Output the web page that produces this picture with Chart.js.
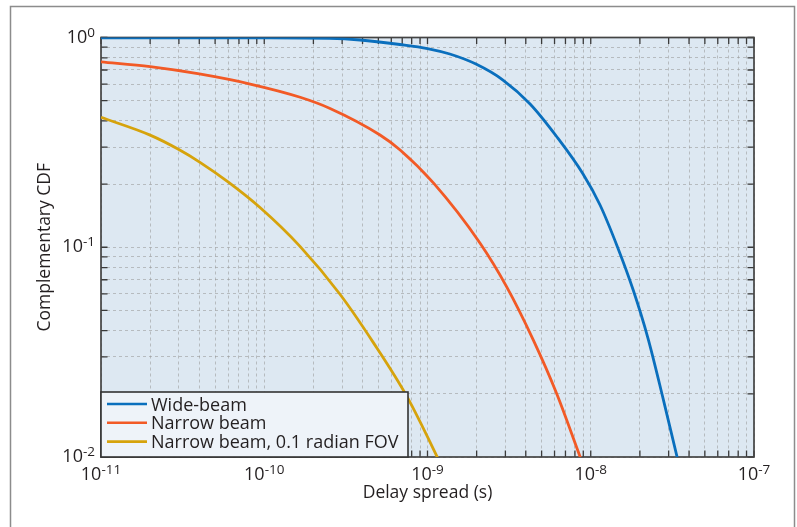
<!DOCTYPE html>
<html>
<head>
<meta charset="utf-8">
<script src="https://cdn.jsdelivr.net/npm/chart.js@4.4.0/dist/chart.umd.min.js"></script>
<style>
  html, body { margin: 0; padding: 0; background: #fff; }
  #wrap { width: 797px; height: 527px; position: relative; }
</style>
</head>
<body>
<div id="wrap"><canvas id="c" width="797" height="527"></canvas></div>
<script>
// Delay spread (s) and complementary CDF for each beam configuration
const wideDelay = [1e-11, 1e-10, 2.5e-10, 3.86e-10, 6.78e-10, 1e-9, 1.37e-9, 1.98e-9, 2.9e-9, 4.25e-9, 6.21e-9, 8.97e-9, 1.14e-8, 1.45e-8, 1.82e-8, 2.24e-8, 2.77e-8, 3.38e-8, 3.47e-8];
const wideCcdf  = [0.996, 0.995, 0.99, 0.973, 0.926, 0.886, 0.834, 0.747, 0.627, 0.482, 0.3355, 0.2235, 0.159, 0.1014, 0.0625, 0.0369, 0.0191, 0.01, 0.0092];

const narrowDelay = [1e-11, 2e-11, 4e-11, 8.2e-11, 1.66e-10, 2.53e-10, 5.12e-10, 6.8e-10, 1.09e-9, 2.1e-9, 3.05e-9, 4.45e-9, 6.18e-9, 8.7e-9];
const narrowCcdf  = [0.765, 0.726, 0.67, 0.60, 0.519, 0.459, 0.343, 0.291, 0.202, 0.1045, 0.0649, 0.0361, 0.0201, 0.0098];

const fovDelay = [1e-11, 2e-11, 2.98e-11, 4.04e-11, 6.03e-11, 9.42e-11, 1.656e-10, 2.91e-10, 4.66e-10, 7.46e-10, 1.14e-9, 1.19e-9];
const fovCcdf  = [0.4164, 0.3424, 0.2931, 0.2541, 0.2045, 0.1547, 0.101, 0.0597, 0.0351, 0.0195, 0.0101, 0.0094];

const seriesLabels = ['Wide-beam', 'Narrow beam', 'Narrow beam, 0.1 radian FOV'];
const seriesColors = ['#0a6fbd', '#f25a26', '#d6a30c'];

// Decade tick labels, written as 10^exponent
const xTickExponents = ['-11', '-10', '-9', '-8', '-7'];
const yTickExponents = ['0', '-1', '-2'];

const xTitle = 'Delay spread (s)';
const yTitle = 'Complementary CDF';

const FONT = '"Open Sans", "Noto Sans", sans-serif';
const TEXT = '#231f20';

function pairs(xs, ys) { return xs.map((x, i) => ({ x: x, y: ys[i] })); }

// 1..9 x 10^e for every decade in the range, plus the closing decade
function logTicks(lo, hi) {
  const t = [];
  for (let e = lo; e < hi; e++) for (let m = 1; m <= 9; m++) t.push({ value: m * Math.pow(10, e), major: m === 1 });
  t.push({ value: Math.pow(10, hi), major: true });
  return t;
}

const plotDecor = {
  id: 'plotDecor',
  beforeDraw(chart) {
    const { ctx, chartArea: a } = chart;
    ctx.save();
    ctx.fillStyle = '#ffffff';
    ctx.fillRect(0, 0, chart.width, chart.height);
    // outer figure frame
    ctx.strokeStyle = '#8c8c8c';
    ctx.lineWidth = 1.5;
    ctx.strokeRect(10.5, 6.5, 784, 540);
    ctx.fillStyle = '#dde8f2';
    ctx.fillRect(a.left, a.top, a.right - a.left, a.bottom - a.top);
    ctx.restore();
  },
  beforeDatasetsDraw(chart) {
    const { ctx, chartArea: a, scales } = chart;
    ctx.save();
    ctx.strokeStyle = '#3a3a3a';
    ctx.lineWidth = 1.3;
    const len = 6.5;
    ctx.beginPath();
    scales.x.ticks.forEach(t => {
      const px = scales.x.getPixelForValue(t.value);
      ctx.moveTo(px, a.bottom); ctx.lineTo(px, a.bottom - len);
      ctx.moveTo(px, a.top); ctx.lineTo(px, a.top + len);
    });
    scales.y.ticks.forEach(t => {
      const py = scales.y.getPixelForValue(t.value);
      ctx.moveTo(a.left, py); ctx.lineTo(a.left + len, py);
      ctx.moveTo(a.right, py); ctx.lineTo(a.right - len, py);
    });
    ctx.stroke();
    ctx.strokeStyle = '#444';
    ctx.lineWidth = 1.7;
    ctx.strokeRect(a.left, a.top, a.right - a.left, a.bottom - a.top);
    ctx.restore();
  },
  afterDraw(chart) {
    const { ctx, chartArea: a, scales } = chart;
    ctx.save();
    ctx.fillStyle = TEXT;
    ctx.textBaseline = 'alphabetic';

    const baseFont = '18px ' + FONT;
    const supFont = '13.5px ' + FONT;
    function power(exp, x, baseline, align) {
      ctx.font = baseFont;
      const wb = ctx.measureText('10').width;
      ctx.font = supFont;
      const ws = ctx.measureText(exp).width;
      const total = wb + ws;
      const x0 = align === 'center' ? x - total / 2 : x - total;
      ctx.textAlign = 'left';
      ctx.font = baseFont;
      ctx.fillText('10', x0, baseline);
      ctx.font = supFont;
      ctx.fillText(exp, x0 + wb, baseline - 6);
    }
    xTickExponents.forEach(e => {
      const px = scales.x.getPixelForValue(Math.pow(10, Number(e)));
      power(e, px, 480, 'center');
    });
    yTickExponents.forEach(e => {
      const py = scales.y.getPixelForValue(Math.pow(10, Number(e)));
      power(e, a.left - 6, py + 5, 'right');
    });

    // axis titles
    ctx.font = '17.5px ' + FONT;
    ctx.textAlign = 'center';
    ctx.fillText(xTitle, (a.left + a.right) / 2, 498);
    ctx.save();
    ctx.translate(50, (a.top + a.bottom) / 2);
    ctx.rotate(-Math.PI / 2);
    ctx.fillText(yTitle, 0, 0);
    ctx.restore();

    // legend box in the lower-left corner of the axes
    const lx0 = a.left, ly0 = 392, lx1 = 408, ly1 = a.bottom;
    ctx.fillStyle = '#eef3f9';
    ctx.fillRect(lx0, ly0, lx1 - lx0, ly1 - ly0);
    ctx.strokeStyle = '#333';
    ctx.lineWidth = 1.6;
    ctx.strokeRect(lx0, ly0, lx1 - lx0, ly1 - ly0);
    ctx.font = '18px ' + FONT;
    ctx.textAlign = 'left';
    chart.data.datasets.forEach((ds, i) => {
      const ry = 404 + i * 18.8;
      ctx.strokeStyle = ds.borderColor;
      ctx.lineWidth = 2.6;
      ctx.beginPath();
      ctx.moveTo(107, ry); ctx.lineTo(147, ry);
      ctx.stroke();
      ctx.fillStyle = TEXT;
      ctx.fillText(ds.label, 151, ry + 6.5);
    });
    ctx.restore();
  }
};

function lineSet(label, xs, ys, color) {
  return {
    label: label,
    data: pairs(xs, ys),
    borderColor: color,
    backgroundColor: color,
    borderWidth: 2.8,
    pointRadius: 0,
    fill: false,
    cubicInterpolationMode: 'monotone'
  };
}

function axis(min, max, lo, hi) {
  return {
    type: 'logarithmic',
    min: min,
    max: max,
    afterBuildTicks: s => { s.ticks = logTicks(lo, hi); },
    afterFit: s => { if (s.isHorizontal()) s.height = 0; else s.width = 0; },
    ticks: { display: false },
    grid: { color: 'rgba(150,150,150,0.55)', lineWidth: 1, drawTicks: false },
    border: { display: false, dash: [3, 3] }
  };
}

new Chart(document.getElementById('c'), {
  type: 'line',
  data: {
    datasets: [
      lineSet(seriesLabels[0], wideDelay, wideCcdf, seriesColors[0]),
      lineSet(seriesLabels[1], narrowDelay, narrowCcdf, seriesColors[1]),
      lineSet(seriesLabels[2], fovDelay, fovCcdf, seriesColors[2])
    ]
  },
  options: {
    responsive: false,
    animation: false,
    layout: { padding: { left: 101, top: 37.5, right: 43, bottom: 70 } },
    scales: {
      x: axis(1e-11, 1e-7, -11, -7),
      y: axis(1e-2, 1, -2, 0)
    },
    plugins: {
      legend: { display: false },
      tooltip: { enabled: false }
    }
  },
  plugins: [plotDecor]
});
</script>
</body>
</html>
